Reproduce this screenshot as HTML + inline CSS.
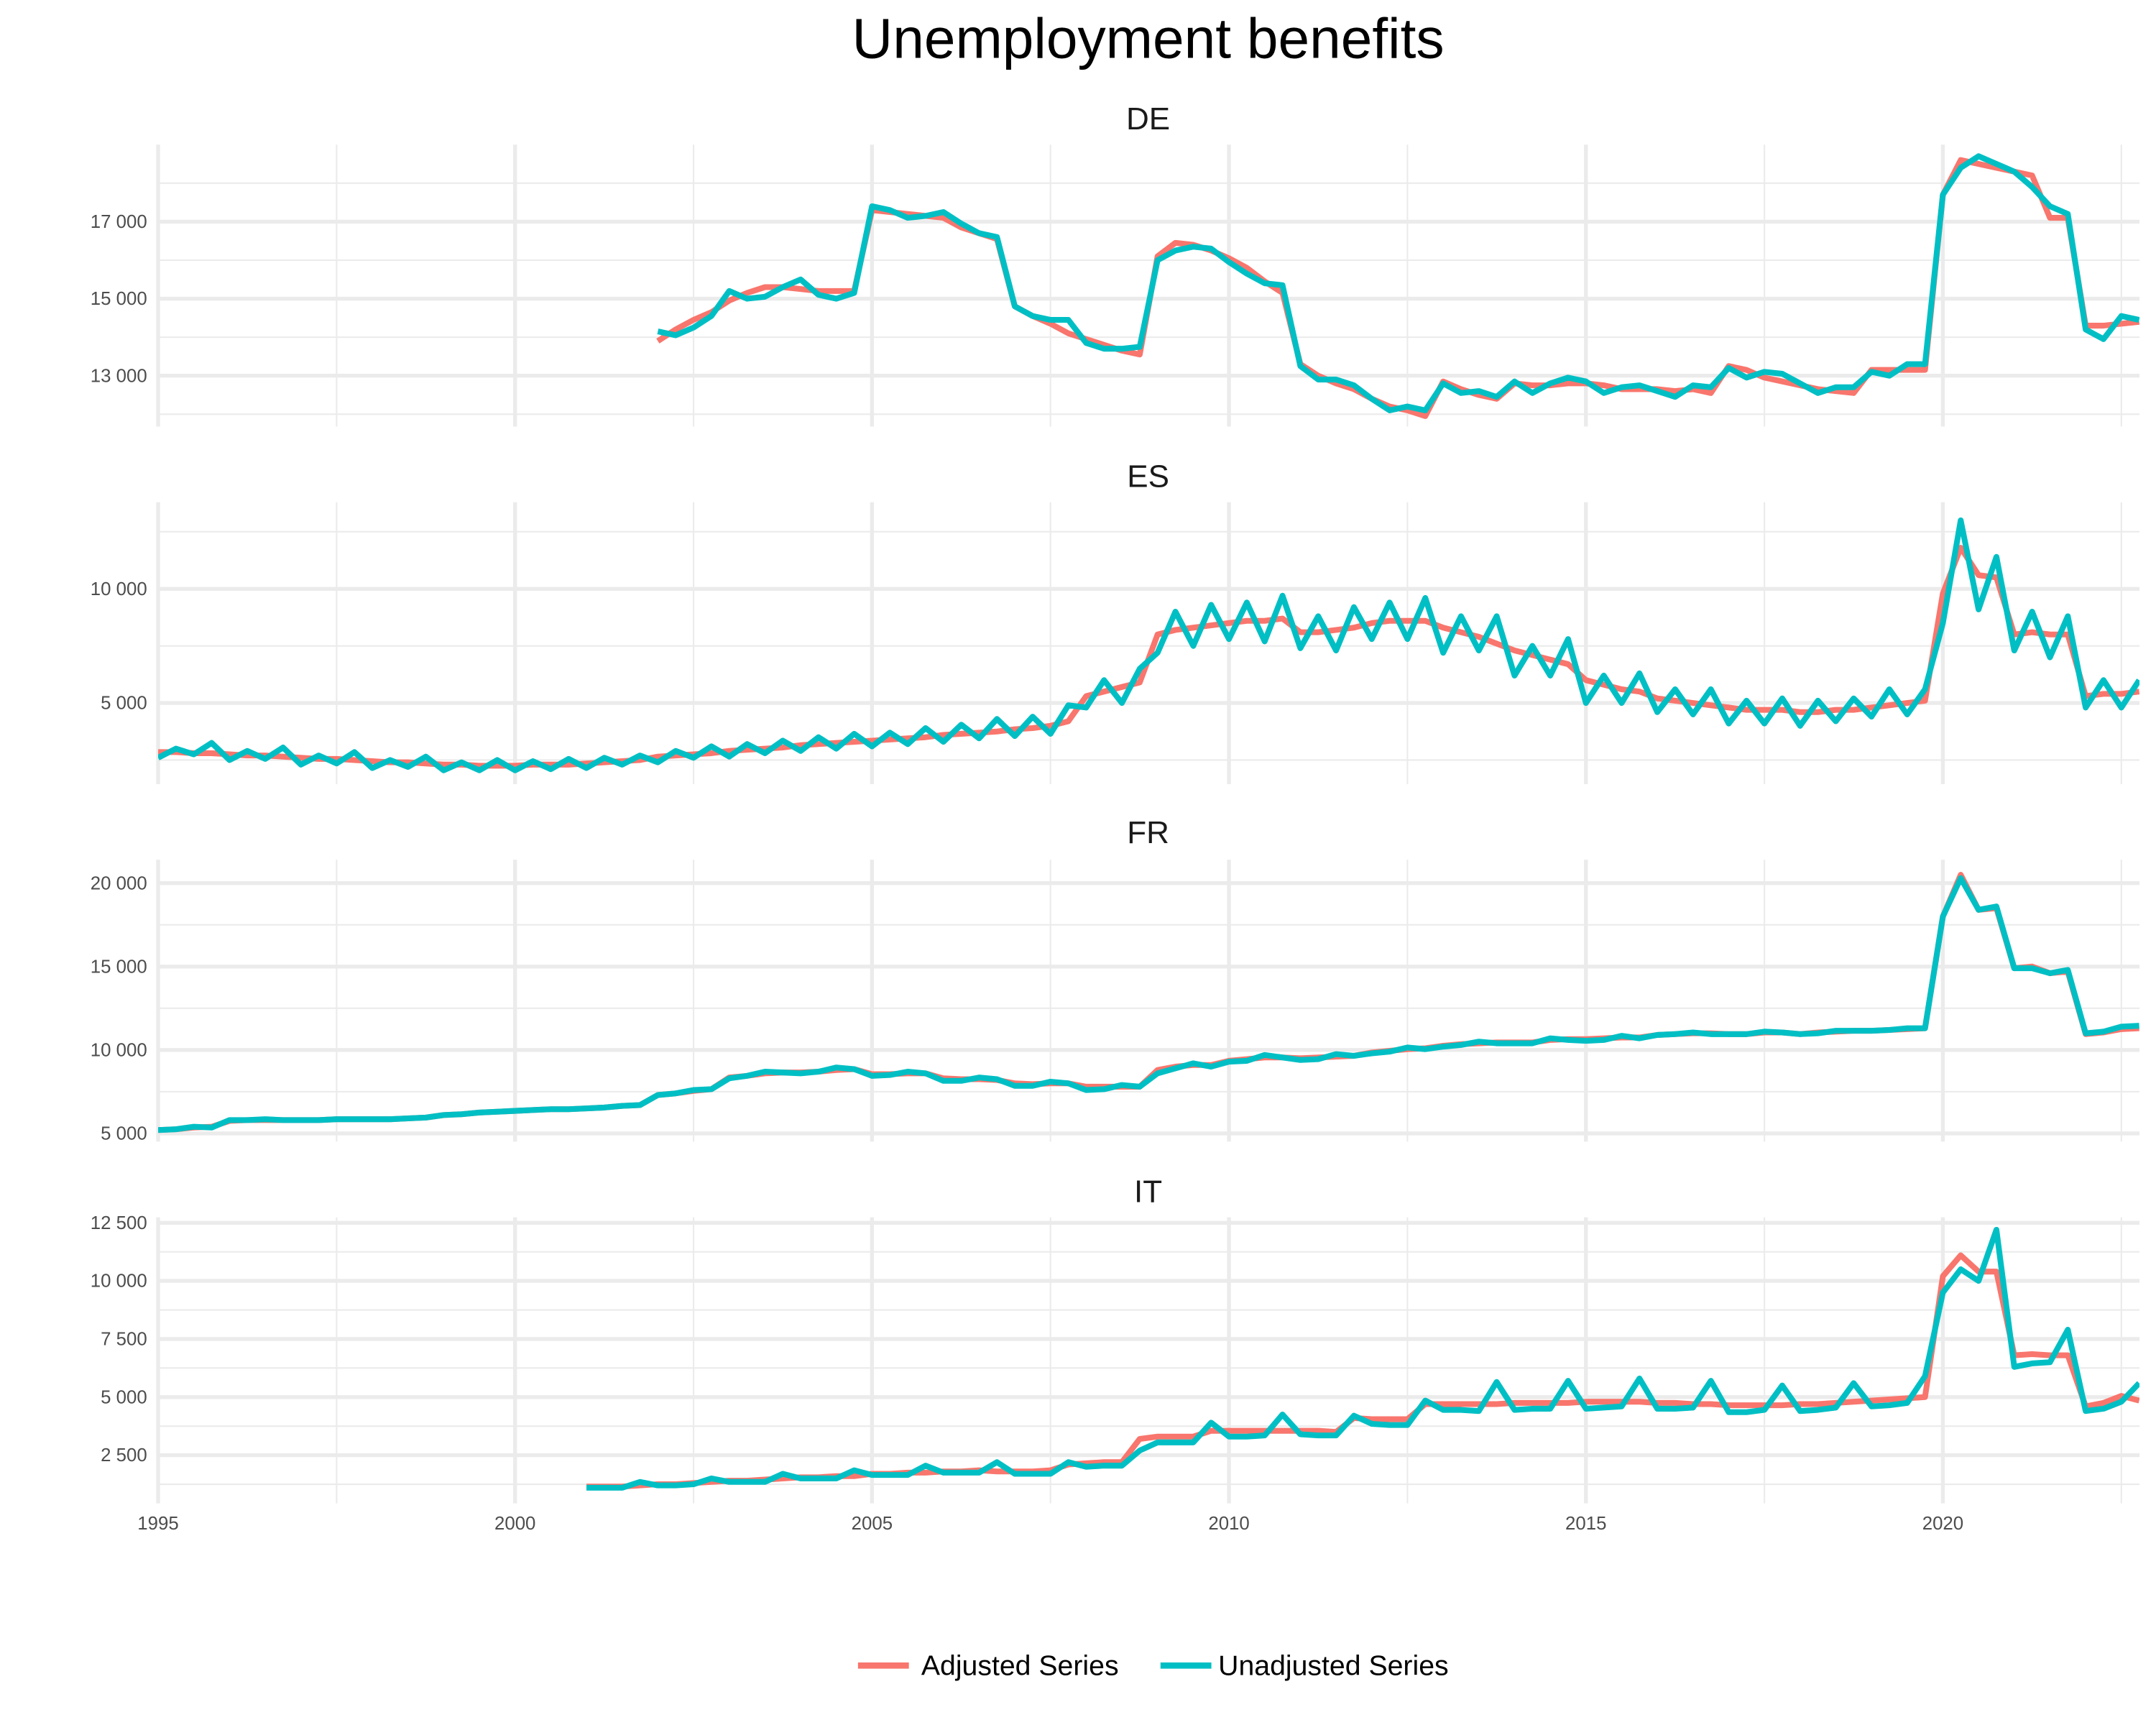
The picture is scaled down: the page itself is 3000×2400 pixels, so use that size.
<!DOCTYPE html>
<html><head><meta charset="utf-8"><style>
html,body{margin:0;padding:0;background:#fff;}
svg{display:block;font-family:"Liberation Sans",Arial,sans-serif;}
</style></head><body>
<svg id="chart" width="3000" height="2400" viewBox="0 0 1568 1254" xmlns="http://www.w3.org/2000/svg">
<rect x="0" y="0" width="1568" height="1254" fill="#fff"/>
<text x="835" y="42" text-anchor="middle" font-size="41" fill="#000">Unemployment benefits</text>
<g id="panels"></g>
<g id="legend">
<line x1="624" y1="1211" x2="661" y2="1211" stroke="#F8766D" stroke-width="4.5"/>
<text x="670" y="1218" font-size="20.5">Adjusted Series</text>
<line x1="844" y1="1211" x2="881" y2="1211" stroke="#00BFC4" stroke-width="4.5"/>
<text x="886" y="1218" font-size="20.5">Unadjusted Series</text>
</g>
</svg>
<script>
const xTicks = [1995, 2000, 2005, 2010, 2015, 2020];
const countries = ["DE", "ES", "FR", "IT"];
const startYears = [2002, 1995, 1995, 2001];
const deAdj = [13900,14200,14450,14650,14950,15150,15300,15300,15250,15200,15200,15200,17300,17250,17200,17150,17100,16850,16700,16550,14800,14550,14350,14100,13950,13800,13650,13550,16100,16450,16400,16250,16050,15800,15450,15150,13300,13000,12800,12650,12400,12200,12100,11950,12850,12650,12500,12400,12800,12750,12750,12800,12800,12750,12650,12650,12650,12600,12650,12550,13250,13150,12950,12850,12750,12650,12600,12550,13150,13150,13150,13150,17700,18600,18500,18400,18300,18200,17100,17100,14300,14300,14350,14400];
const deUnadj = [14150,14050,14250,14550,15200,15000,15050,15300,15500,15100,15000,15150,17400,17300,17100,17150,17250,16950,16700,16600,14800,14550,14450,14450,13850,13700,13700,13750,16000,16250,16350,16300,15950,15650,15400,15350,13250,12900,12900,12750,12400,12100,12200,12100,12800,12550,12600,12450,12850,12550,12800,12950,12850,12550,12700,12750,12600,12450,12750,12700,13200,12950,13100,13050,12800,12550,12700,12700,13100,13000,13300,13300,17700,18400,18700,18500,18300,17900,17400,17200,14200,13950,14550,14450];
const esAdj = [2850,2850,2800,2800,2750,2700,2700,2650,2600,2550,2550,2500,2450,2400,2400,2350,2300,2300,2250,2250,2250,2300,2300,2300,2350,2400,2450,2500,2650,2700,2750,2800,2900,2950,3000,3050,3150,3200,3250,3300,3350,3400,3450,3500,3600,3650,3700,3750,3850,3900,4000,4200,5300,5500,5700,5900,8000,8200,8300,8400,8500,8600,8600,8700,8100,8100,8200,8300,8500,8600,8600,8600,8300,8100,7900,7600,7300,7100,6900,6700,6000,5800,5600,5500,5200,5100,5000,4900,4800,4700,4700,4700,4600,4600,4700,4700,4800,4900,5000,5100,9800,11800,10600,10500,8000,8100,8000,8000,5300,5400,5400,5500];
const esUnadj = [2600,3000,2750,3250,2500,2900,2550,3050,2300,2700,2350,2850,2150,2500,2200,2650,2050,2400,2050,2500,2050,2450,2100,2550,2150,2600,2300,2700,2400,2900,2600,3100,2650,3200,2800,3350,2900,3500,3000,3650,3100,3700,3200,3900,3300,4050,3450,4300,3550,4400,3650,4900,4800,6000,5000,6500,7200,9000,7500,9300,7800,9400,7700,9700,7400,8800,7300,9200,7800,9400,7800,9600,7200,8800,7300,8800,6200,7500,6200,7800,5000,6200,5000,6300,4600,5600,4500,5600,4100,5100,4100,5200,4000,5100,4200,5200,4400,5600,4500,5600,8500,13000,9100,11400,7300,9000,7000,8800,4800,6000,4800,6000];
const frAdj = [5200,5250,5350,5400,5750,5800,5800,5800,5800,5800,5850,5850,5850,5850,5900,5950,6100,6150,6250,6300,6350,6400,6450,6450,6500,6550,6650,6700,7300,7400,7550,7650,8350,8450,8600,8650,8650,8700,8800,8850,8550,8550,8600,8600,8300,8250,8250,8200,8000,7950,8000,8000,7800,7800,7800,7800,8800,9000,9100,9100,9350,9450,9550,9550,9500,9550,9600,9650,9850,9950,10050,10100,10250,10350,10400,10450,10450,10450,10600,10650,10650,10700,10750,10750,10900,10950,11000,11000,10950,10950,11050,11050,10950,11050,11100,11150,11150,11200,11250,11300,18000,20500,18400,18500,14900,15000,14600,14700,10950,11050,11250,11300];
const frUnadj = [5200,5250,5400,5350,5800,5800,5850,5800,5800,5800,5850,5850,5850,5850,5900,5950,6100,6150,6250,6300,6350,6400,6450,6450,6500,6550,6650,6700,7300,7400,7600,7650,8300,8450,8700,8650,8600,8700,8950,8850,8450,8500,8700,8600,8150,8150,8350,8250,7850,7850,8100,8000,7600,7650,7900,7800,8600,8900,9200,9000,9300,9350,9700,9550,9400,9450,9750,9650,9800,9900,10150,10050,10200,10300,10500,10400,10400,10400,10700,10600,10550,10600,10850,10700,10900,10950,11050,10950,10950,10950,11100,11050,10950,11000,11150,11150,11150,11200,11300,11300,18000,20300,18400,18600,14900,14900,14600,14800,11000,11100,11400,11450];
const itAdj = [1150,1150,1150,1200,1250,1250,1300,1350,1400,1400,1450,1500,1550,1550,1600,1600,1700,1700,1750,1750,1800,1800,1850,1800,1800,1800,1850,2100,2150,2200,2200,3200,3300,3300,3300,3550,3550,3550,3550,3550,3550,3550,3500,4100,4050,4050,4050,4700,4700,4700,4700,4700,4750,4750,4750,4750,4800,4800,4800,4800,4750,4750,4700,4700,4650,4650,4650,4650,4700,4700,4750,4800,4850,4900,4950,5000,10200,11100,10400,10400,6800,6850,6800,6800,4600,4750,5050,4850];
const itUnadj = [1100,1100,1100,1350,1200,1200,1250,1500,1350,1350,1350,1700,1500,1500,1500,1850,1650,1650,1650,2050,1750,1750,1750,2200,1700,1700,1700,2200,2000,2050,2050,2700,3050,3050,3050,3900,3300,3300,3350,4250,3400,3350,3350,4200,3850,3800,3800,4850,4450,4450,4400,5650,4450,4500,4500,5700,4500,4550,4600,5800,4500,4500,4550,5700,4350,4350,4450,5500,4400,4450,4550,5600,4600,4650,4750,5900,9500,10500,10000,12200,6300,6450,6500,7900,4400,4500,4800,5600];
const adjSeries = [deAdj, esAdj, frAdj, itAdj];
const unadjSeries = [deUnadj, esUnadj, frUnadj, itUnadj];
const yMajor = [[13000,15000,17000],[5000,10000],[5000,10000,15000,20000],[2500,5000,7500,10000,12500]];
const yMinor = [[12000,14000,16000,18000],[2500,7500,12500],[7500,12500,17500],[1250,3750,6250,8750,11250]];
const yLabels = [["13 000","15 000","17 000"],["5 000","10 000"],["5 000","10 000","15 000","20 000"],["2 500","5 000","7 500","10 000","12 500"]];

const X0 = 115, X1 = 1556;
const panelTop = [105, 365, 625, 885];
const panelBot = [310, 570, 830, 1093];
const stripY = [94, 354, 613, 874];
const yAnchors = [[13000,273,17000,161],[5000,511,10000,428],[5000,824,20000,642],[2500,1058,12500,889]];
function xScale(t){ return X0 + (t - 1995) * (1413 - 115) / 25; }
function yScale(i, v){ const a = yAnchors[i]; return a[1] + (v - a[0]) * (a[3] - a[1]) / (a[2] - a[0]); }

const NS = "http://www.w3.org/2000/svg";
const root = document.getElementById("panels");
function mk(tag, attrs, parent){ const e = document.createElementNS(NS, tag); for (const k in attrs) e.setAttribute(k, attrs[k]); parent.appendChild(e); return e; }

const defs = mk("defs", {}, root);
countries.forEach((c, i) => {
  const cp = mk("clipPath", {id: "clip" + i}, defs);
  mk("rect", {x: X0, y: panelTop[i], width: X1 - X0, height: panelBot[i] - panelTop[i]}, cp);

  const g = mk("g", {}, root);
  
  

  const strip = mk("text", {x: 835, y: stripY[i], "text-anchor": "middle", "font-size": "23", fill: "#1A1A1A"}, g);
  
  
  strip.textContent = c;

  for (let yr = 1997.5; yr <= 2022.6; yr += 5) {
    const l = mk("line", {x1: xScale(yr), x2: xScale(yr), y1: panelTop[i], y2: panelBot[i], stroke: "#EBEBEB", "stroke-width": 1.1}, g);
    
    
  }
  yMinor[i].forEach(v => {
    const y = yScale(i, v);
    if (y < panelTop[i] || y > panelBot[i]) return;
    const l = mk("line", {x1: X0, x2: X1, y1: y, y2: y, stroke: "#EBEBEB", "stroke-width": 1.1}, g);
    
    
  });
  xTicks.forEach(yr => {
    const l = mk("line", {x1: xScale(yr), x2: xScale(yr), y1: panelTop[i], y2: panelBot[i], stroke: "#EBEBEB", "stroke-width": 2.8}, g);
    
    
  });
  yMajor[i].forEach((v, k) => {
    const y = yScale(i, v);
    const l = mk("line", {x1: X0, x2: X1, y1: y, y2: y, stroke: "#EBEBEB", "stroke-width": 2.8}, g);
    
    
    const t = mk("text", {x: 107, y: y + 4.5, "text-anchor": "end", "font-size": "13.5", fill: "#4D4D4D"}, g);
    
    
    t.textContent = yLabels[i][k];
  });

  const lines = mk("g", {"clip-path": "url(#clip" + i + ")"}, g);
  [[adjSeries[i], "#F8766D", "adjusted"], [unadjSeries[i], "#00BFC4", "unadjusted"]].forEach(s => {
    const pts = s[0].map((v, q) => xScale(startYears[i] + q / 4).toFixed(2) + "," + yScale(i, v).toFixed(2)).join(" ");
    const pl = mk("polyline", {points: pts, fill: "none", stroke: s[1], "stroke-width": 4.2, "stroke-linejoin": "round"}, lines);
    
    
  });
});

const ax = mk("g", {}, root);


xTicks.forEach(yr => {
  const t = mk("text", {x: xScale(yr), y: 1112, "text-anchor": "middle", "font-size": "13.5", fill: "#4D4D4D"}, ax);
  
  
  t.textContent = yr;
});
</script>
</body></html>
